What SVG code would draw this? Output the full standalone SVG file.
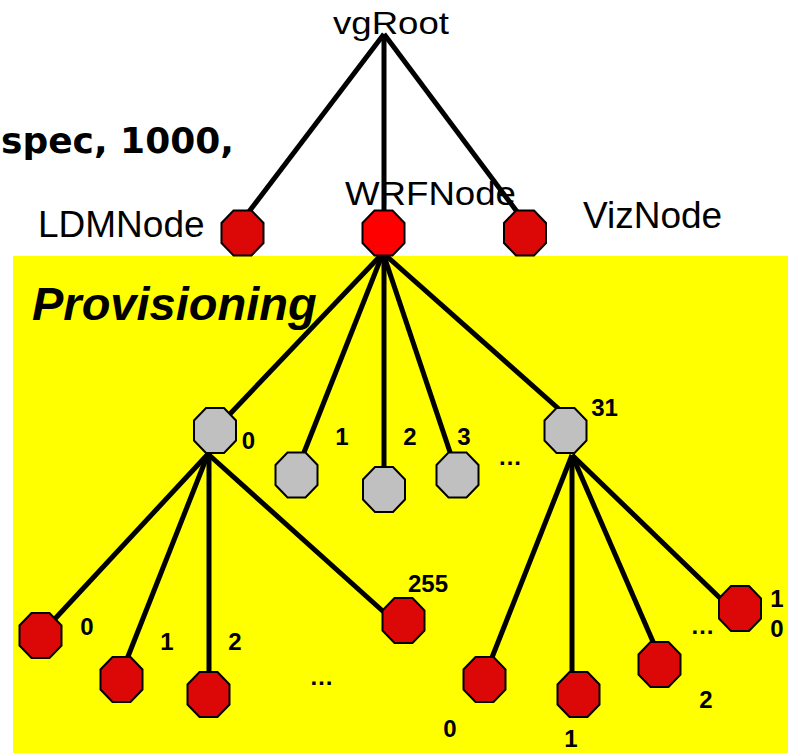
<svg xmlns="http://www.w3.org/2000/svg" xmlns:xlink="http://www.w3.org/1999/xlink" width="788" height="753" viewBox="0 0 788 753">
<style>
.big{font-family:"Liberation Sans",Arial,sans-serif;fill:#000}
.lbl{font-family:"Liberation Sans",Arial,sans-serif;font-weight:bold;font-size:24px;fill:#000;text-anchor:middle}
.conn line{stroke:#000;stroke-width:5;stroke-linecap:butt}
.oct{stroke:#000;stroke-width:2}
.red{fill:#DC0707}
.bright{fill:#FF0000}
.gray{fill:#C0C0C0}
</style>
<defs>
<polygon id="oct" points="-9,-22.5 9,-22.5 21,-10 21,10 9,22.5 -9,22.5 -21,10 -21,-10"/>
</defs>
<rect x="0" y="0" width="788" height="753" fill="#fff"/>
<rect id="provisioning-area" x="13" y="256" width="775" height="497" fill="#FFFF00"/>
<text x="234" y="153" font-family="'DejaVu Sans',sans-serif" font-weight="bold" font-size="36" text-anchor="end" fill="#000">spec, 1000,</text>
<text x="32" y="320" class="big" font-weight="bold" font-style="italic" font-size="47">Provisioning</text>

<g id="connectors" class="conn">
<line x1="384" y1="34" x2="248" y2="213"/>
<line x1="384" y1="34" x2="384" y2="213"/>
<line x1="384" y1="34" x2="518" y2="213"/>
<line x1="383" y1="253" x2="229" y2="415"/>
<line x1="383" y1="253" x2="303" y2="455"/>
<line x1="384" y1="253" x2="384" y2="469"/>
<line x1="383" y1="253" x2="451" y2="455"/>
<line x1="383" y1="253" x2="560" y2="410"/>
<line x1="208" y1="454" x2="52" y2="622"/>
<line x1="208" y1="454" x2="127" y2="659"/>
<line x1="209" y1="454" x2="209" y2="674"/>
<line x1="208" y1="454" x2="386" y2="614"/>
<line x1="572" y1="455" x2="491" y2="660"/>
<line x1="572" y1="455" x2="572" y2="674"/>
<line x1="572" y1="455" x2="654" y2="644"/>
<line x1="572" y1="455" x2="722" y2="600"/>
</g>

<g id="vgRoot"><text x="333" y="34" class="big" font-size="31" textLength="116" lengthAdjust="spacingAndGlyphs">vgRoot</text></g>
<g id="LDMNode"><use xlink:href="#oct" x="242.5" y="233" class="oct red"/><text x="38" y="237" class="big" font-size="37">LDMNode</text></g>
<g id="WRFNode"><use xlink:href="#oct" x="383.5" y="233" class="oct bright"/><text x="345" y="205" class="big" font-size="33" textLength="171" lengthAdjust="spacingAndGlyphs">WRFNode</text></g>
<g id="VizNode"><use xlink:href="#oct" x="525" y="233" class="oct red"/><text x="583" y="228" class="big" font-size="37">VizNode</text></g>

<g id="p0"><use xlink:href="#oct" x="215" y="430.5" class="oct gray"/><text x="248.5" y="449" class="lbl">0</text></g>
<g id="p1"><use xlink:href="#oct" x="296.5" y="475" class="oct gray"/><text x="342" y="445" class="lbl">1</text></g>
<g id="p2"><use xlink:href="#oct" x="384" y="489.5" class="oct gray"/><text x="410" y="445" class="lbl">2</text></g>
<g id="p3"><use xlink:href="#oct" x="457.5" y="475" class="oct gray"/><text x="464" y="445" class="lbl">3</text></g>
<text x="510" y="465" class="lbl">…</text>
<g id="p31"><use xlink:href="#oct" x="565.5" y="430.5" class="oct gray"/><text x="604.5" y="416" class="lbl">31</text></g>

<g id="a0"><use xlink:href="#oct" x="40.5" y="635.5" class="oct red"/><text x="87" y="635" class="lbl">0</text></g>
<g id="a1"><use xlink:href="#oct" x="121.5" y="679.5" class="oct red"/><text x="167" y="650" class="lbl">1</text></g>
<g id="a2"><use xlink:href="#oct" x="208.5" y="694.5" class="oct red"/><text x="235" y="650" class="lbl">2</text></g>
<text x="321.5" y="685" class="lbl">…</text>
<g id="a255"><use xlink:href="#oct" x="403.5" y="620.5" class="oct red"/><text x="428" y="592" class="lbl">255</text></g>

<g id="b0"><use xlink:href="#oct" x="484.5" y="679.5" class="oct red"/><text x="450" y="737" class="lbl">0</text></g>
<g id="b1"><use xlink:href="#oct" x="578.5" y="694.5" class="oct red"/><text x="571" y="747" class="lbl">1</text></g>
<g id="b2"><use xlink:href="#oct" x="659.5" y="664.5" class="oct red"/><text x="706" y="708" class="lbl">2</text></g>
<text x="702.5" y="634" class="lbl">…</text>
<g id="b10"><use xlink:href="#oct" x="740" y="608.5" class="oct red"/><text x="777" y="607" class="lbl">1</text><text x="777" y="637" class="lbl">0</text></g>
</svg>
